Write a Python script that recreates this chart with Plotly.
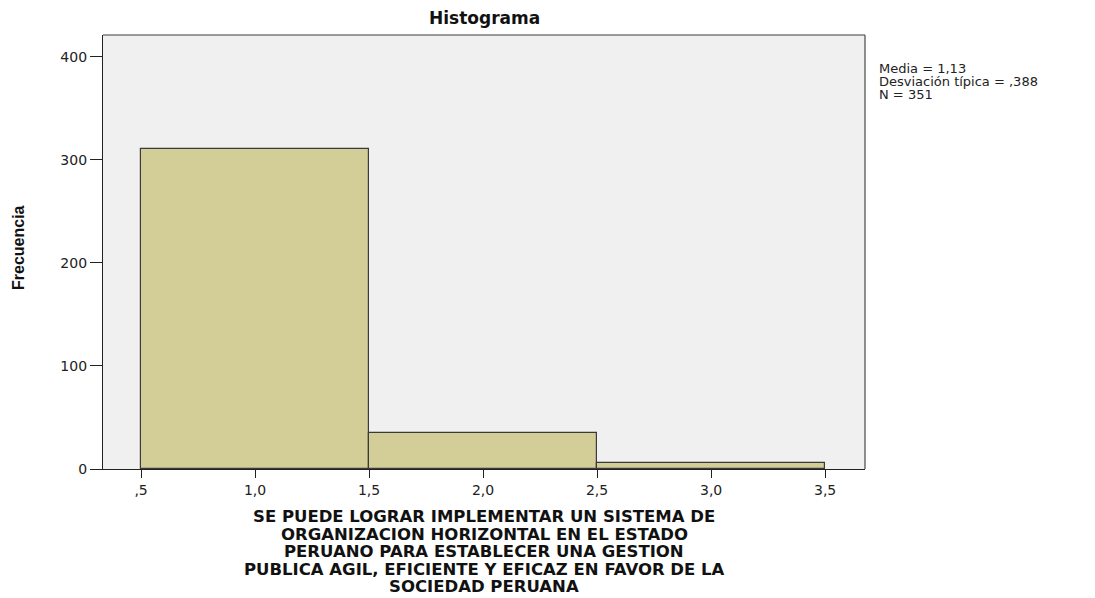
import plotly.graph_objects as go

# Data
bin_edges = [0.5, 1.5, 2.5, 3.5]
counts = [310, 35, 6]
x_tick_vals = [0.5, 1.0, 1.5, 2.0, 2.5, 3.0, 3.5]
x_tick_text = [",5", "1,0", "1,5", "2,0", "2,5", "3,0", "3,5"]
y_tick_vals = [0, 100, 200, 300, 400]
y_tick_text = ["0", "100", "200", "300", "400"]
stats_lines = ["Media = 1,13", "Desviación típica = ,388", "N = 351"]
x_title_lines = [
    "SE PUEDE LOGRAR IMPLEMENTAR UN SISTEMA DE",
    "ORGANIZACION HORIZONTAL EN EL ESTADO",
    "PERUANO PARA ESTABLECER UNA GESTION",
    "PUBLICA AGIL, EFICIENTE Y EFICAZ EN FAVOR DE LA",
    "SOCIEDAD PERUANA",
]
title_text = "Histograma"
y_title = "Frecuencia"

centers = [(bin_edges[i] + bin_edges[i + 1]) / 2 for i in range(len(counts))]
widths = [bin_edges[i + 1] - bin_edges[i] for i in range(len(counts))]

FONT = "DejaVu Sans, Liberation Sans, Arial, sans-serif"

fig = go.Figure()
fig.add_trace(go.Bar(
    x=centers, y=counts, width=widths,
    marker=dict(color="#D3CE97", line=dict(color="#3a3a3a", width=1.2)),
    hoverinfo="x+y",
))

# page has an 8px body margin; figure sized to fit the 1095x598 window
W, H = 1087, 590
L, R, T, B = 95, 230, 27, 129

fig.update_layout(
    width=W, height=H,
    margin=dict(l=L, r=R, t=T, b=B),
    paper_bgcolor="white", plot_bgcolor="#F0F0F0",
    showlegend=False,
    font=dict(family=FONT, size=13, color="#222"),
    bargap=0,
)
fig.update_xaxes(
    range=[0.333, 3.675], tickmode="array", tickvals=x_tick_vals, ticktext=x_tick_text,
    ticks="outside", ticklen=8, tickwidth=1.3, tickcolor="#222",
    showline=True, linecolor="#222", linewidth=1.3, showgrid=False, zeroline=False,
    tickfont=dict(family=FONT, size=14, color="#222"),
)
fig.update_yaxes(
    range=[0, 421], tickmode="array", tickvals=y_tick_vals, ticktext=y_tick_text,
    ticks="outside", ticklen=12, tickwidth=1.3, tickcolor="#222",
    showline=True, linecolor="#222", linewidth=1.3, showgrid=False, zeroline=False,
    tickfont=dict(family=FONT, size=14, color="#222"),
)

# top and right frame lines
fig.add_shape(type="line", xref="x domain", yref="y domain", x0=0, x1=1, y0=1, y1=1,
              line=dict(color="#7a7a7a", width=1.3))
fig.add_shape(type="line", xref="x domain", yref="y domain", x0=1, x1=1, y0=0, y1=1,
              line=dict(color="#555555", width=1.3))

# title
fig.add_annotation(text="<b>%s</b>" % title_text, xref="paper", yref="paper",
                   x=0.5, y=1, yshift=17, yanchor="middle", showarrow=False,
                   font=dict(family=FONT, size=17, color="#111"))

# y title
fig.add_annotation(text="<b>%s</b>" % y_title, xref="paper", yref="paper",
                   x=0, xshift=-85, xanchor="center", y=0.5, yshift=4, yanchor="middle",
                   textangle=-90, showarrow=False,
                   font=dict(family="Liberation Sans Narrow, Liberation Sans, Arial, sans-serif",
                             size=16, color="#111"))

# x title lines
for i, line in enumerate(x_title_lines):
    fig.add_annotation(text="<b>%s</b>" % line, xref="paper", yref="paper",
                       x=0.5, y=0, yshift=-(47.5 + i * 17.6), yanchor="middle", showarrow=False,
                       font=dict(family=FONT, size=16.5, color="#111"))

# stats text
for i, line in enumerate(stats_lines):
    fig.add_annotation(text=line, xref="paper", yref="paper",
                       x=1, xshift=12, xanchor="left", y=1, yshift=-(33 + i * 13), yanchor="middle",
                       showarrow=False, font=dict(family=FONT, size=13, color="#222"))

fig.write_html("out.html")
